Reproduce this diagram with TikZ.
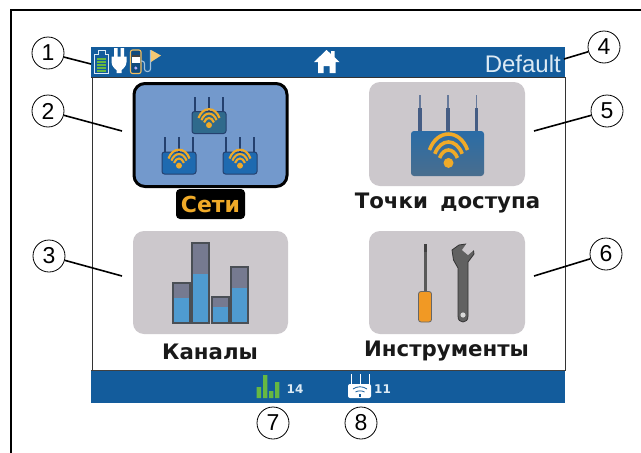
\documentclass[tikz,border=0pt]{standalone}
\usepackage{fontspec}
\setmainfont{Liberation Sans}
\newfontfamily\menufont{DejaVu Sans}
\definecolor{barblue}{HTML}{135C9C}
\definecolor{tilegray}{HTML}{CCC8CC}
\definecolor{tileblue}{HTML}{7399CC}
\definecolor{wifiorange}{HTML}{F0AA28}
\definecolor{barcap}{HTML}{767A90}
\definecolor{barfill}{HTML}{4F9BD0}
\definecolor{baredge}{HTML}{4A4F55}
\definecolor{antenna}{HTML}{24406E}
\definecolor{lightlabel}{HTML}{DCEAF4}
\definecolor{statgreen}{HTML}{66B842}
\tikzset{
  callout/.style={circle,draw=black,line width=.8pt,fill=white,minimum size=32pt,inner sep=0pt,font=\fontsize{23}{25}\selectfont},
  leader/.style={line width=1.6pt,black},
  tile/.style={fill=tilegray,rounded corners=11pt},
  menulabel/.style={font=\menufont\bfseries\fontsize{21.3}{25}\selectfont,text=black!90,inner sep=0pt},
  chartbar/.style={draw=baredge,line width=1.3pt},
  statlabel/.style={inner sep=0pt,text=lightlabel,font=\menufont\bfseries\fontsize{12}{13}\selectfont}
}
\begin{document}
\begin{tikzpicture}[x=1pt,y=-1pt]
\useasboundingbox (0,0) rectangle (641,453);
\fill[white] (0,0) rectangle (641,453);
% outer frame
\draw[line width=2pt] (11,453) -- (11,9.5) -- (641,9.5);
% screen
\fill[white] (92,77) rectangle (565,371);
\draw[line width=.9pt,black!80] (92,77) -- (92,371) (565,77) -- (565,371);
\fill[barblue] (91,47) rectangle (565,77);
\draw[line width=1.2pt,black!80] (91,77.5) -- (565,77.5);
\fill[barblue] (91,371) rectangle (565,403);
\draw[line width=1.2pt,black!75] (91,370.5) -- (565,370.5);
% battery
\draw[lightlabel,line width=1pt] (94.5,54) -- (98,54) -- (98,50) -- (105,50) -- (105,54) -- (108.5,54) -- (108.5,73) -- (94.5,73) -- cycle;
\foreach \yy in {58,61,64,67,70} \fill[statgreen] (97,\yy) rectangle (106,\yy+2);
% plug
\fill[white] (114,48) rectangle (117.5,58) (120.5,48) rectangle (124,58);
\fill[white] (111.5,56.5) -- (126.5,56.5) -- (126.5,62) .. controls (126.5,66) and (123,69) .. (121.5,70) -- (121.5,73) -- (116.5,73) -- (116.5,70) .. controls (115,69) and (111.5,66) .. (111.5,62) -- cycle;
% tester
\draw[wifiorange!75!white,line width=1.1pt,fill=barblue!80!black,rounded corners=2pt] (130.5,50) rectangle (141,73.5);
\fill[white] (132,57) rectangle (139.5,63);
\fill[black!75] (132,54.5) rectangle (139.5,57);
\fill[blue!30!white] (135.8,68) circle (1.7);
\draw[lightlabel!70!barblue,line width=1.1pt,rounded corners=2.5pt] (141,61) -- (144.5,61) -- (144.5,71.5) -- (150.5,71.5) -- (150.5,50);
\fill[wifiorange!65!white] (151,50) -- (161,55.5) -- (151,62) -- cycle;
% home
\fill[white] (326.5,50) -- (331,54) -- (331,51) -- (334.5,51) -- (334.5,57) -- (339.5,62) -- (335.5,62) -- (335.5,73) -- (329.5,73) -- (329.5,66) -- (323.5,66) -- (323.5,73) -- (318,73) -- (318,62) -- (314,62) -- cycle;
\node[inner sep=0pt,anchor=east,text=lightlabel,font=\fontsize{24}{26}\selectfont] (deflabel) at (561,63.5) {Default};
% tiles
\fill[tileblue,draw=black,line width=3pt,rounded corners=11pt] (134,83.5) rectangle (287,186.5);
\fill[tile] (369,82) rectangle (525,186);
\fill[tile] (133,231) rectangle (288,334);
\fill[tile] (369,231) rectangle (525,334);
% small routers
\foreach \cx/\cy/\col in {209/122.5/2F6A8C,179/163/1E6AB0,240/163/1E6AB0}{
  \definecolor{rtcol}{HTML}{\col}
  \draw[antenna,line width=2pt] (\cx-14,\cy-10) -- (\cx-14,\cy-26) (\cx,\cy-10) -- (\cx,\cy-26) (\cx+14,\cy-10) -- (\cx+14,\cy-26);
  \fill[rtcol,draw=antenna,line width=1pt,rounded corners=2.5pt] (\cx-17,\cy-11) rectangle (\cx+17,\cy+11);
  \begin{scope}[shift={(\cx,\cy-4.5)},x=10.5pt,y=-10.5pt]
    \fill[wifiorange] (0,.68) circle (3pt);
    \draw[wifiorange,line width=2.1pt]
      (-1,0) .. controls (-.6,-1.12) and (.6,-1.12) .. (1,0)
      (-.72,.2) .. controls (-.4,-.63) and (.4,-.63) .. (.72,.2)
      (-.47,.42) .. controls (-.25,-.14) and (.25,-.14) .. (.47,.42);
  \end{scope}
}
% big router
\draw[antenna!70!white,line width=1.1pt] (420,95) -- (420,108) (448,95) -- (448,108) (476.5,95) -- (476.5,108);
\draw[antenna!85!white,line width=3.2pt] (420,108) -- (420,131) (448,108) -- (448,131) (476.5,108) -- (476.5,131);
\shade[top color=barblue!90!white,middle color=barblue!85!white,bottom color=barblue!50!gray,rounded corners=3pt] (411,131) rectangle (484,176);
\begin{scope}[shift={(448.5,150)},x=19pt,y=-19pt]
  \fill[wifiorange] (0,.68) circle (5pt);
  \draw[wifiorange,line width=3.6pt]
    (-1,0) .. controls (-.6,-1.12) and (.6,-1.12) .. (1,0)
    (-.72,.2) .. controls (-.4,-.63) and (.4,-.63) .. (.72,.2)
    (-.47,.42) .. controls (-.25,-.14) and (.25,-.14) .. (.47,.42);
\end{scope}
% channel bars
\foreach \xa/\ya/\yb in {173/283/298,192/243/274,212/297/307,231/267/288}{
  \fill[barcap] (\xa,\ya) rectangle (\xa+17,\yb);
  \fill[barfill] (\xa,\yb) rectangle (\xa+17,323);
  \draw[chartbar] (\xa,\ya) rectangle (\xa+17,323);
}
% screwdriver
\fill[gray!70!black] (423.5,250) rectangle (427,292);
\fill[black!75] (423.5,244) rectangle (426.5,252);
\fill[wifiorange!90!red,draw=black!60,line width=.8pt,rounded corners=2.5pt] (418.5,291.5) rectangle (431.5,322);
% wrench
\fill[black!62,draw=black!80,line width=.8pt] (458,316) -- (458,268) -- (453.5,260) -- (452,250) -- (459,245) -- (466,244) -- (473,247) -- (474,254) -- (468,262) -- (468,316) .. controls (468,320) and (466,322) .. (463,322) .. controls (460,322) and (458,320) .. (458,316) -- cycle;
\fill[tilegray] (462,250) -- (467,243) -- (475,243) -- (475,249) -- (468,255) -- cycle;
\fill[white!85!black] (463,315) circle (2.6);
% menu labels
\node[inner sep=0pt,minimum width=69pt,minimum height=30pt,fill=black,rounded corners=4pt,text=wifiorange,font=\menufont\bfseries\fontsize{22}{25}\selectfont] (seti) at (210.5,204) {Сети};
\node[menulabel] (ap) at (447.5,203) {Точки\hspace{5pt} доступа};
\node[menulabel] (kan) at (210,351.5) {Каналы};
\node[menulabel] (inst) at (446.5,351.5) {Инструменты};
% status bar
\fill[statgreen] (256.7,387) rectangle (261,398) (263,375) rectangle (267.3,398) (269,391) rectangle (273.3,398) (275,382) rectangle (279.3,398);
\node[statlabel] (chan) at (295,389) {14};
\draw[white,line width=1pt] (351,374) -- (351,385) (360,374) -- (360,385) (369,374) -- (369,385);
\fill[white,rounded corners=2pt] (348,384) rectangle (371,398);
\draw[barblue,line width=.8pt] (353,389) .. controls (357,386) and (363,386) .. (367,389) (355.5,392) .. controls (358,390.5) and (362,390.5) .. (364.5,392);
\fill[barblue] (359,394) rectangle (361,397);
\node[statlabel] (apcount) at (382.5,389) {11};
% callouts
\node[callout] (c1) at (48,53) {1};
\node[callout] (c2) at (48,111) {2};
\node[callout] (c3) at (49,256) {3};
\node[callout] (c4) at (604,47) {4};
\node[callout] (c5) at (607,111) {5};
\node[callout] (c6) at (606,254) {6};
\node[callout] (c7) at (273,423) {7};
\node[callout] (c8) at (361,423) {8};
\coordinate (e1) at (91,64);
\coordinate (e2) at (122,131);
\coordinate (e3) at (122,276);
\coordinate (e4) at (564,59);
\coordinate (e5) at (534,131);
\coordinate (e6) at (534,276);
\draw[leader] (c1) -- (e1);
\draw[leader] (c2) -- (e2);
\draw[leader] (c3) -- (e3);
\draw[leader] (c4) -- (e4);
\draw[leader] (c5) -- (e5);
\draw[leader] (c6) -- (e6);
\end{tikzpicture}
\end{document}
